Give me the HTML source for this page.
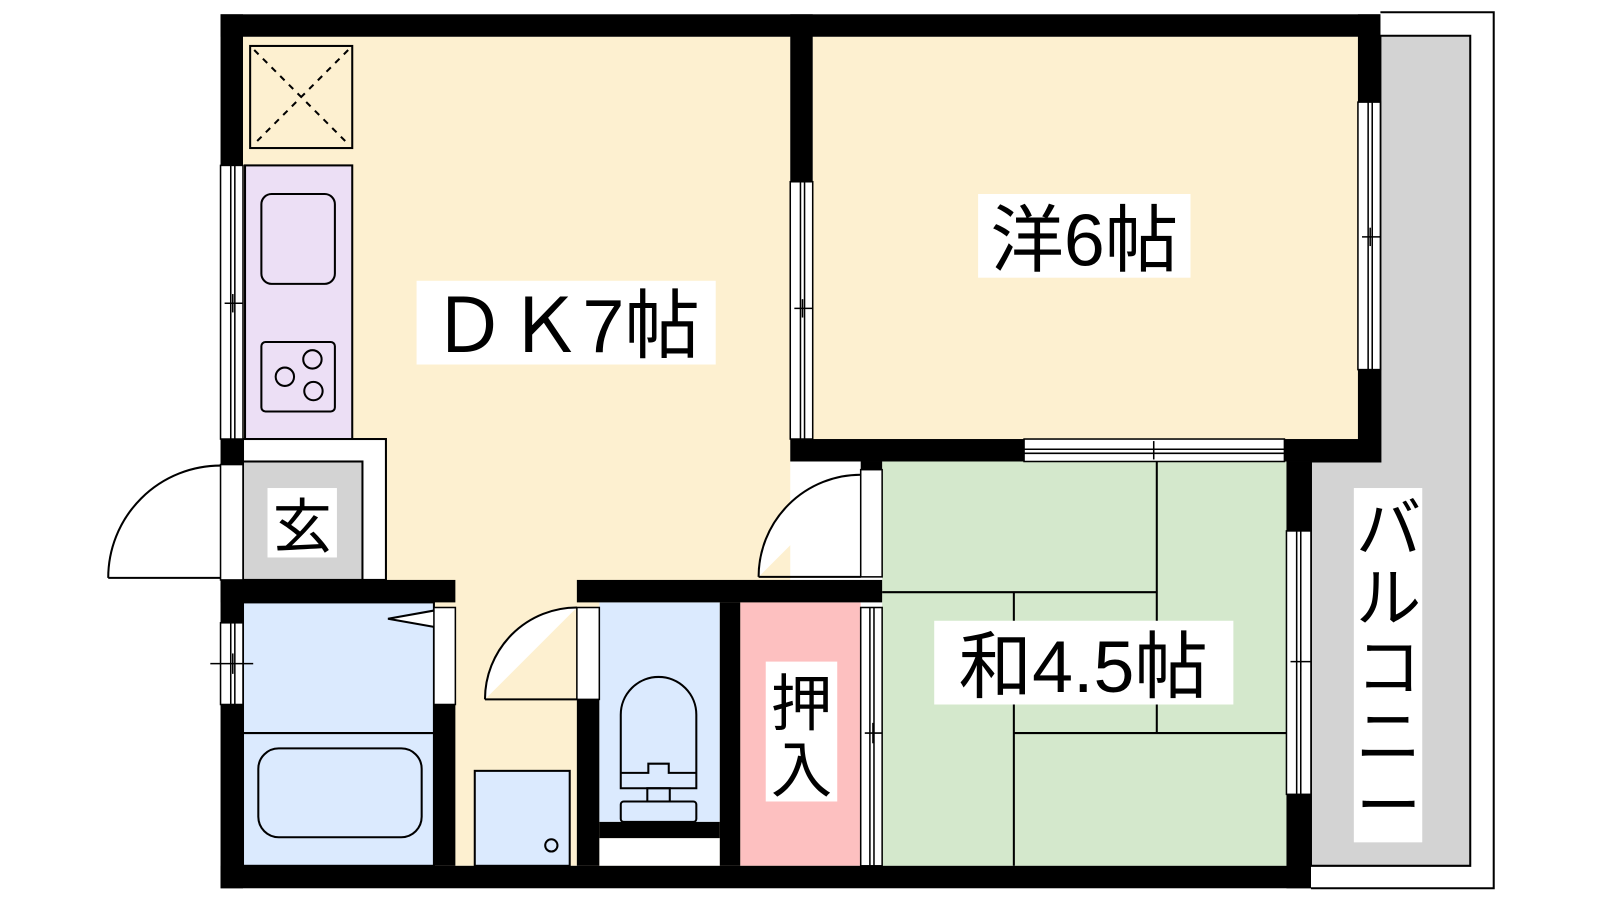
<!DOCTYPE html>
<html><head><meta charset="utf-8"><style>
html,body{margin:0;padding:0;background:#fff;width:1600px;height:900px;overflow:hidden}
svg{display:block}
text{font-family:"Liberation Sans","Noto Sans CJK JP",sans-serif;fill:#000}
</style></head><body>
<svg width="1600" height="900" viewBox="0 0 1600 900" xmlns="http://www.w3.org/2000/svg">
<g transform="scale(1.021)">
<path d="M1352 12 H1463 V870 H1284" fill="none" stroke="#000" stroke-width="2"/>
<path d="M1352 35 H1440 V848 H1284 V452 H1352 Z" fill="#d3d3d3" stroke="#000" stroke-width="2"/>
<rect x="238" y="36" width="536" height="812" fill="#fdf0d0"/>
<rect x="796" y="36" width="534" height="394" fill="#fdf0d0"/>
<rect x="864" y="452" width="396" height="396" fill="#d4e8cc"/>
<g stroke="#000" stroke-width="2" fill="none">
<line x1="1133" y1="452" x2="1133" y2="718"/>
<line x1="864" y1="580" x2="1133" y2="580"/>
<line x1="993" y1="580" x2="993" y2="848"/>
<line x1="993" y1="718" x2="1260" y2="718"/>
</g>
<rect x="245" y="45" width="100" height="100" fill="none" stroke="#000" stroke-width="2"/>
<path d="M249 49 L341 141 M341 49 L249 141" stroke="#000" stroke-width="2" stroke-dasharray="6,6"/>
<rect x="240" y="162" width="105" height="268" fill="#ecdff5" stroke="#000" stroke-width="2"/>
<rect x="256" y="190" width="72" height="88" rx="10" fill="none" stroke="#000" stroke-width="2"/>
<rect x="256" y="335" width="72" height="68" rx="4" fill="none" stroke="#000" stroke-width="2"/>
<g fill="none" stroke="#000" stroke-width="2">
<circle cx="279" cy="369" r="9"/><circle cx="306" cy="352" r="9"/><circle cx="307" cy="383" r="9"/>
</g>
<rect x="238" y="430" width="140" height="138" fill="#fff" stroke="#000" stroke-width="2"/>
<rect x="238" y="452" width="117" height="116" fill="#d3d3d3" stroke="#000" stroke-width="2"/>
<path d="M106 566 A110 110 0 0 1 216 456 M106 566 H216" fill="none" stroke="#000" stroke-width="2"/>
<rect x="238" y="590" width="187" height="258" fill="#dbeafe" stroke="#000" stroke-width="2"/>
<line x1="238" y1="718" x2="425" y2="718" stroke="#000" stroke-width="2"/>
<rect x="253" y="733" width="160" height="87" rx="20" fill="none" stroke="#000" stroke-width="2"/>
<path d="M425 598 L380 606 L425 614" fill="#fff" stroke="#000" stroke-width="2"/>
<rect x="465" y="755" width="93" height="93" fill="#dbeafe" stroke="#000" stroke-width="2"/>
<circle cx="540" cy="828" r="6" fill="none" stroke="#000" stroke-width="2"/>
<rect x="587" y="590" width="118" height="215" fill="#dbeafe"/>
<rect x="587" y="805" width="118" height="16" fill="#000"/>
<rect x="587" y="821" width="118" height="27" fill="#fff"/>
<path d="M608 772 V700 A37 37 0 0 1 682 700 V772 Z" fill="none" stroke="#000" stroke-width="2"/>
<path d="M608 757 H635 V748 H655 V757 H682" fill="none" stroke="#000" stroke-width="2"/>
<rect x="608" y="785" width="74" height="20" rx="3" fill="none" stroke="#000" stroke-width="2"/>
<rect x="634" y="772" width="22" height="13" fill="none" stroke="#000" stroke-width="2"/>
<rect x="725" y="590" width="118" height="258" fill="#fdc0c0"/>
<path d="M475 685 A90 90 0 0 1 565 595 M475 685 H565" fill="#fff" stroke="#000" stroke-width="2"/>
<path d="M743 565 A100 100 0 0 1 843 465 M743 565 H843" fill="#fff" stroke="#000" stroke-width="2"/>
<g fill="#000">
<rect x="216" y="14" width="1136" height="22"/>
<rect x="216" y="14" width="22" height="148"/>
<rect x="216" y="430" width="22" height="25"/>
<rect x="216" y="568" width="22" height="42"/>
<rect x="216" y="690" width="22" height="180"/>
<rect x="216" y="848" width="1068" height="22"/>
<rect x="774" y="14" width="22" height="164"/>
<rect x="774" y="430" width="229" height="22"/>
<rect x="1258" y="430" width="94" height="22"/>
<rect x="1330" y="14" width="22" height="86"/>
<rect x="1330" y="362" width="22" height="90"/>
<rect x="216" y="568" width="230" height="22"/>
<rect x="425" y="690" width="21" height="158"/>
<rect x="565" y="568" width="299" height="22"/>
<rect x="565" y="685" width="22" height="163"/>
<rect x="705" y="590" width="20" height="258"/>
<rect x="843" y="452" width="21" height="8"/>
<rect x="1260" y="452" width="24" height="68"/>
<rect x="1260" y="778" width="24" height="92"/>
</g>
<g fill="#fff" stroke="#000" stroke-width="1.5">
<rect x="216" y="162" width="22" height="268"/><line x1="226" y1="162" x2="226" y2="430"/><line x1="230" y1="162" x2="230" y2="430"/>
<rect x="774" y="178" width="22" height="252"/><line x1="784" y1="178" x2="784" y2="430"/><line x1="788" y1="178" x2="788" y2="430"/>
<rect x="1330" y="100" width="22" height="262"/><line x1="1340" y1="100" x2="1340" y2="362"/><line x1="1344" y1="100" x2="1344" y2="362"/>
<rect x="1003" y="430" width="255" height="22"/><line x1="1003" y1="440" x2="1258" y2="440"/><line x1="1003" y1="444" x2="1258" y2="444"/>
<rect x="216" y="610" width="22" height="80"/><line x1="226" y1="610" x2="226" y2="690"/><line x1="230" y1="610" x2="230" y2="690"/>
<rect x="1260" y="520" width="24" height="258"/><line x1="1270" y1="520" x2="1270" y2="778"/><line x1="1274" y1="520" x2="1274" y2="778"/>
<rect x="843" y="595" width="21" height="253"/><line x1="852" y1="595" x2="852" y2="848"/><line x1="856" y1="595" x2="856" y2="848"/>
<rect x="216" y="455" width="22" height="113"/>
<rect x="425" y="595" width="21" height="95"/>
<rect x="565" y="595" width="22" height="90"/>
<rect x="843" y="460" width="21" height="105"/>
</g>
<g stroke="#000" stroke-width="1.5">
<line x1="220" y1="297" x2="238" y2="297"/><line x1="228" y1="288" x2="228" y2="306"/>
<line x1="778" y1="302" x2="796" y2="302"/><line x1="786" y1="293" x2="786" y2="311"/>
<line x1="1334" y1="232" x2="1352" y2="232"/><line x1="1342" y1="223" x2="1342" y2="241"/>
<line x1="1120" y1="440" x2="1140" y2="440"/><line x1="1130" y1="432" x2="1130" y2="450"/>
<line x1="206" y1="650" x2="248" y2="650"/><line x1="228" y1="640" x2="228" y2="660"/>
<line x1="1264" y1="648" x2="1284" y2="648"/><line x1="1274" y1="638" x2="1274" y2="658"/>
<line x1="847" y1="718" x2="864" y2="718"/><line x1="855" y1="708" x2="855" y2="728"/>
</g>
<g fill="#fff">
<rect x="408" y="275" width="293" height="82"/>
<rect x="958" y="190" width="208" height="82"/>
<rect x="915" y="608" width="293" height="82"/>
<rect x="262" y="478" width="68" height="68"/>
<rect x="750" y="648" width="70" height="137"/>
<rect x="1326" y="478" width="67" height="347"/>
</g>
<text x="554" y="345" font-size="74" text-anchor="middle">ＤＫ7帖</text>
<text x="1062" y="260" font-size="72" text-anchor="middle">洋6帖</text>
<text x="1061" y="678" font-size="72" text-anchor="middle">和4.5帖</text>
<text x="296" y="536" font-size="58" text-anchor="middle">玄</text>
<text x="785" y="710" font-size="60" text-anchor="middle">押</text>
<text x="785" y="775" font-size="60" text-anchor="middle">入</text>
<g font-size="64" text-anchor="middle">
<text x="1360" y="540">バ</text><text x="1360" y="608">ル</text><text x="1360" y="676">コ</text><text x="1360" y="744">ニ</text><text x="1360" y="812">ー</text>
</g>
</g>
</svg>
</body></html>
